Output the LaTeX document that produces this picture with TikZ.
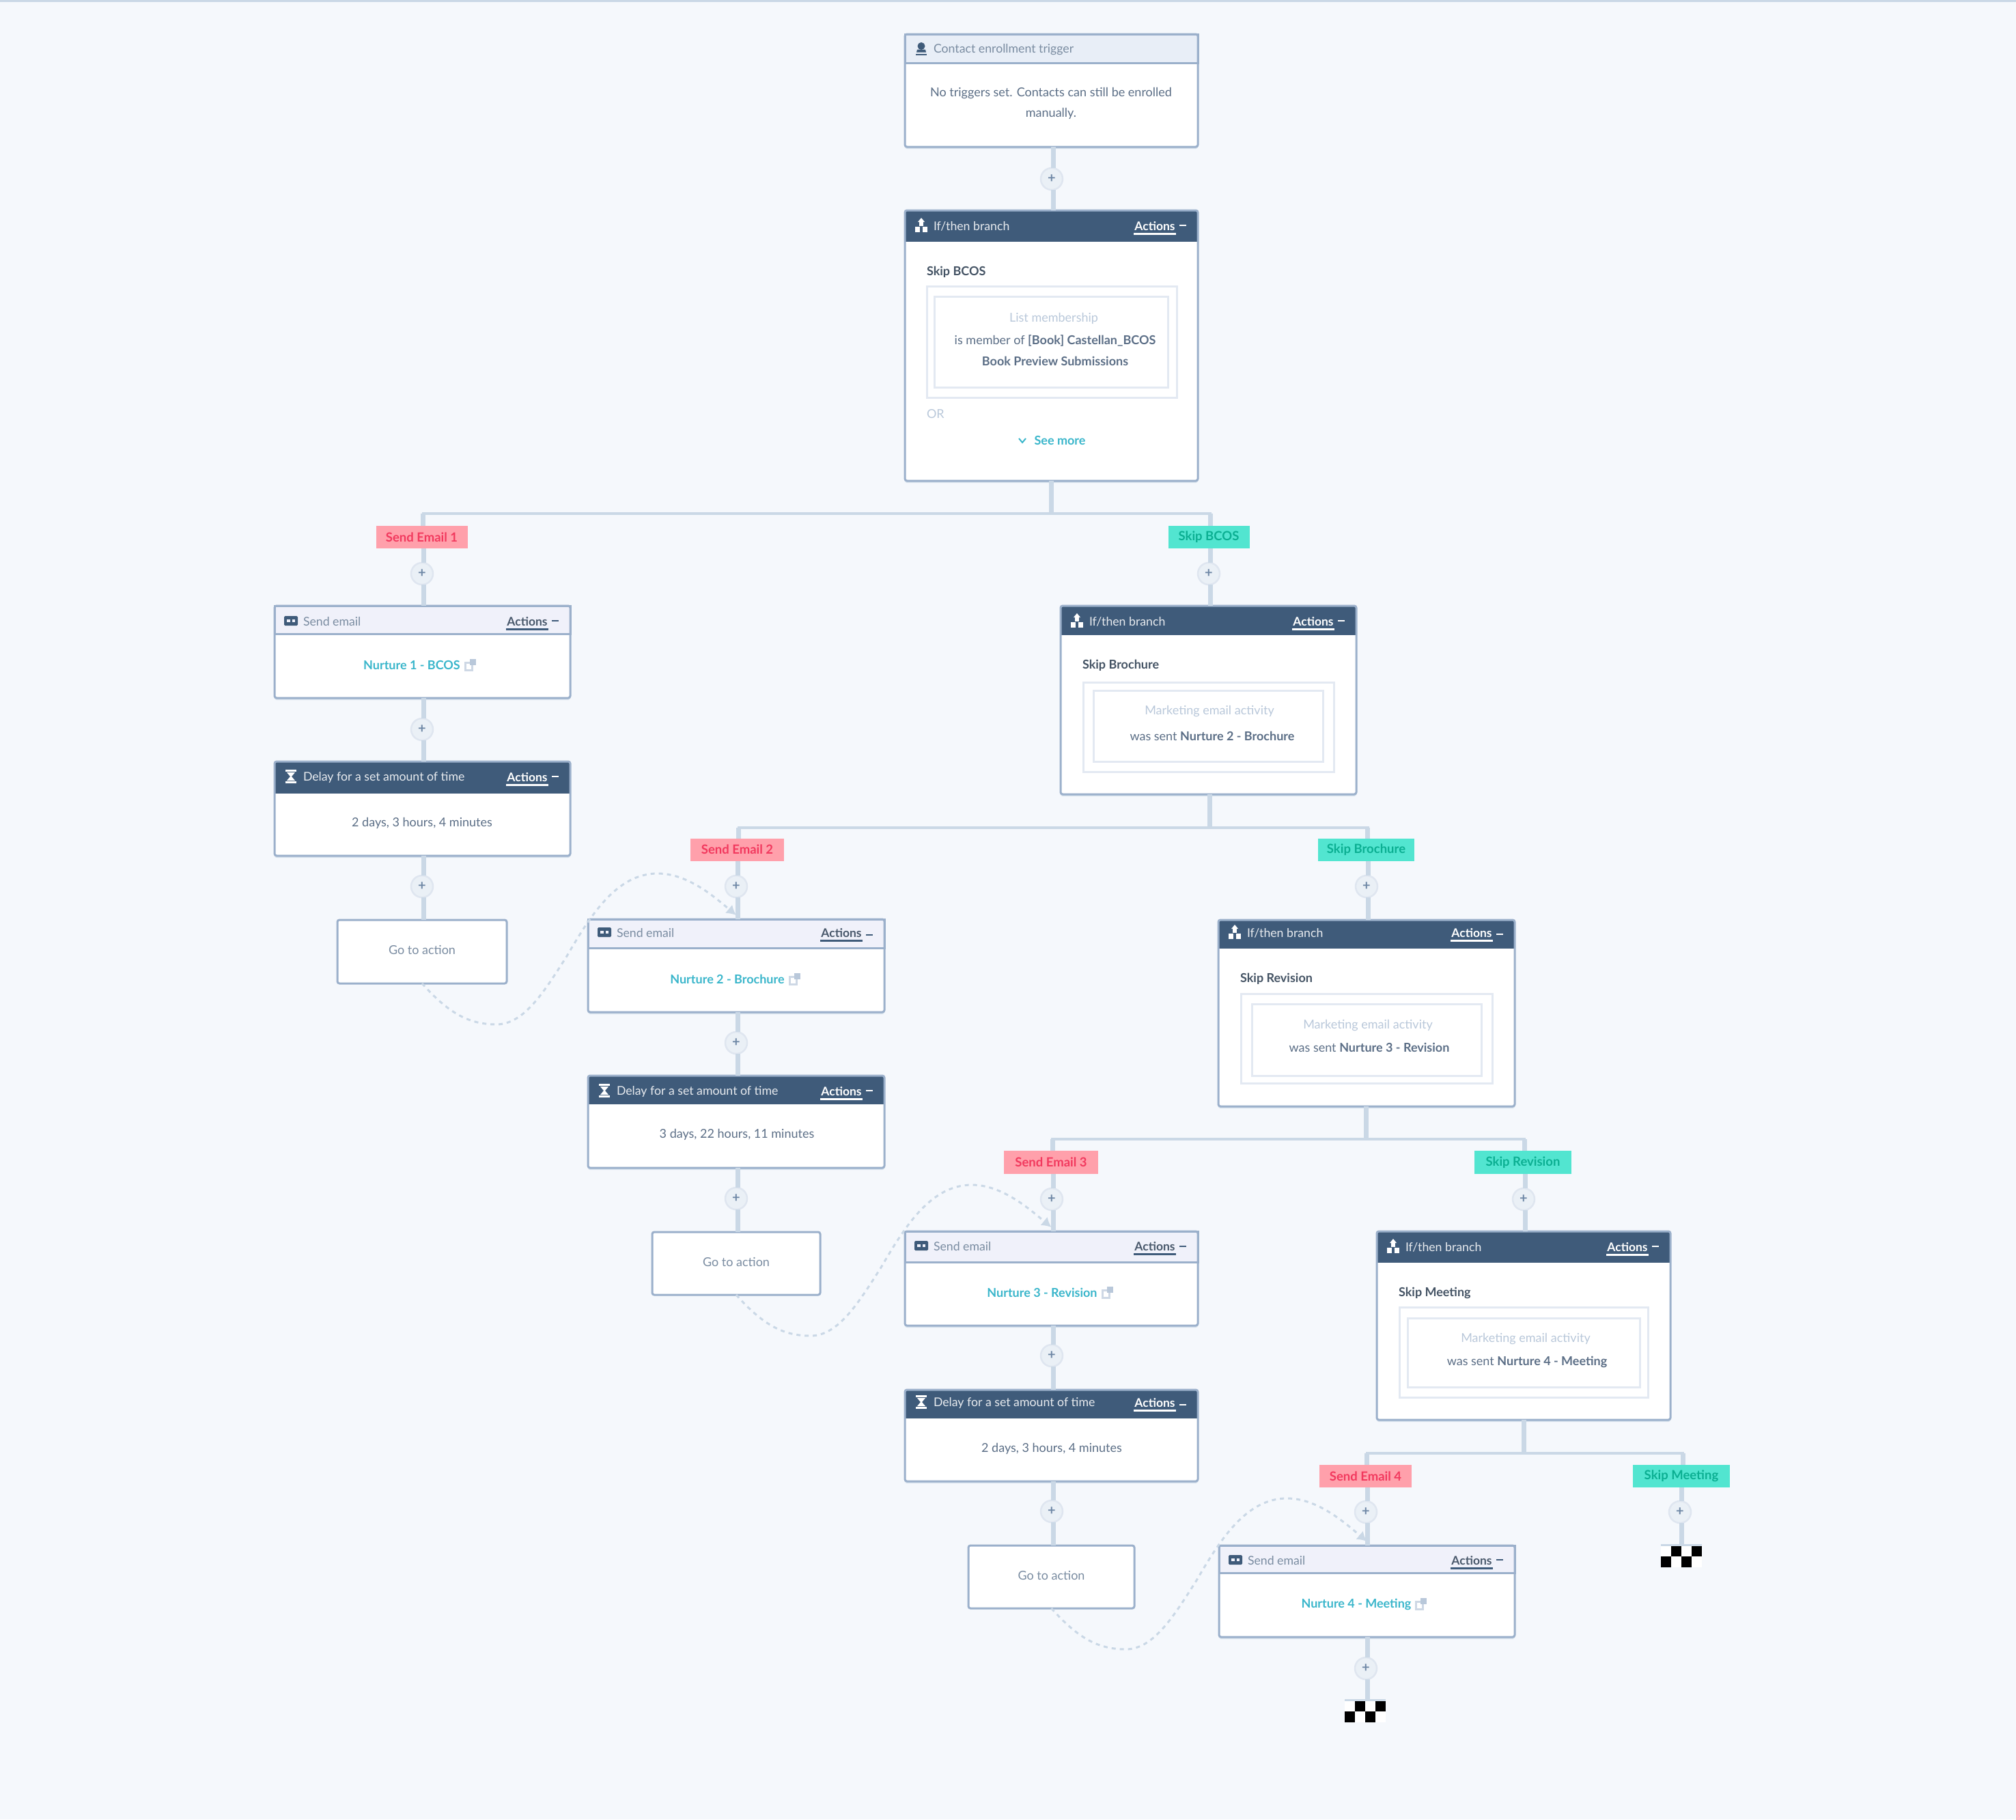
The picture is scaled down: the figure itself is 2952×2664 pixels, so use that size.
\documentclass[tikz,border=0pt]{standalone}
\usepackage{fontspec}
\setmainfont{Lato}
\usetikzlibrary{calc,arrows.meta}
\definecolor{bgc}{HTML}{F5F8FC}
\definecolor{edgec}{HTML}{CAD8E6}
\definecolor{borderc}{HTML}{9BB0CB}
\definecolor{darkh}{HTML}{3F5B7A}
\definecolor{lighth}{HTML}{F0F1FA}
\definecolor{trigh}{HTML}{E8EEF7}
\definecolor{titleg}{HTML}{7A8CA1}
\definecolor{bodyg}{HTML}{5B6E86}
\definecolor{paleg}{HTML}{B9C8DA}
\definecolor{framec}{HTML}{E3E9F2}
\definecolor{linkc}{HTML}{3AB6CB}
\definecolor{redf}{HTML}{FFA0AB}
\definecolor{redt}{HTML}{F2395E}
\definecolor{tealf}{HTML}{52E5D0}
\definecolor{tealt}{HTML}{0BAF92}
\definecolor{plusf}{HTML}{EAF0F6}
\definecolor{plusb}{HTML}{DFE6F0}
\definecolor{plust}{HTML}{6F88A6}
\tikzset{
  every node/.style={inner sep=0pt,outer sep=0pt,font=\fontsize{18}{22}\selectfont},
  cardbox/.style={rectangle,rounded corners=3pt,draw=borderc,line width=3pt},
  carddown/.style={rectangle,rounded corners=3pt,fill=edgec!70!bgc},
  headdark/.style={rectangle,fill=darkh},
  headlight/.style={rectangle,fill=lighth,draw=borderc,line width=3pt},
  headtrig/.style={rectangle,fill=trigh,draw=borderc,line width=3pt},
  titledark/.style={text=white!88!darkh,anchor=west,yshift=-1pt,font=\fontsize{17.7}{22}\selectfont},
  titlelight/.style={text=titleg,anchor=west,yshift=-1pt,font=\fontsize{17.7}{22}\selectfont},
  titletrig/.style={text=titleg,anchor=west,yshift=-1pt,font=\fontsize{17.7}{22}\selectfont},
  stemline/.style={draw=edgec,line width=7pt},
  barline/.style={draw=edgec,line width=4pt},
  plusnode/.style={circle,minimum size=32pt,fill=plusf,draw=plusb,line width=2.5pt,text=plust,font=\fontsize{20}{20}\selectfont\bfseries},
  redlabel/.style={rectangle,fill=redf,text=redt,font=\fontsize{18.5}{22}\selectfont\bfseries},
  teallabel/.style={rectangle,fill=tealf,text=tealt,font=\fontsize{18.5}{22}\selectfont\bfseries},
  gotolink/.style={draw=edgec,line width=3pt,dash pattern=on 6pt off 6pt,-{Latex[length=14pt,width=16pt]}},
  bodytext/.style={text=bodyg,align=center,yshift=-1pt},
  paletext/.style={text=paleg,yshift=-1pt},
  subhead/.style={anchor=west,text=bodyg!75!black,font=\fontsize{18}{22}\selectfont\bfseries,yshift=-1pt},
  gototext/.style={text=titleg,yshift=-1pt},
  linktext/.style={text=linkc,font=\fontsize{18}{22}\selectfont\bfseries,yshift=-1pt},
  framebox/.style={rectangle,draw=framec,line width=3pt,fill=white},
  actionsdark/.style={text=white,font=\fontsize{17.5}{22}\selectfont\bfseries,yshift=-1pt},
  actionslight/.style={text=bodyg!80!black,font=\fontsize{17.5}{22}\selectfont\bfseries,yshift=-1pt}
}
\newcommand{\iconperson}[3]{\begin{scope}[shift={(#1,#2)}]
  \fill[#3] (0,-4) circle (5.5);
  \fill[#3] (-6,1) -- (6,1) -- (7,5) -- (-7,5) -- cycle;
  \fill[#3] (-8,7) rectangle (8,9);
\end{scope}}
\newcommand{\iconbranch}[3]{\begin{scope}[shift={(#1,#2)}]
  \fill[#3] (0,-11) -- (5,-5) -- (-5,-5) -- cycle;
  \fill[#3] (-3,-5) rectangle (3,1);
  \fill[#3] (-9,2) rectangle (-2,10);
  \fill[#3] (2,2) rectangle (9,10);
\end{scope}}
\newcommand{\iconmail}[3]{\begin{scope}[shift={(#1,#2)}]
  \fill[#3,rounded corners=1.5pt] (-10,-7) rectangle (10,7);
  \fill[lighth] (-6,-2) rectangle (-1.5,2);
  \fill[lighth] (1.5,-2) rectangle (6,2);
\end{scope}}
\newcommand{\iconglass}[3]{\begin{scope}[shift={(#1,#2)}]
  \fill[#3] (-8,-10) rectangle (8,-7);
  \fill[#3] (-8,7) rectangle (8,10);
  \fill[#3] (-6,-6) -- (6,-6) -- (1,0) -- (6,6) -- (-6,6) -- (-1,0) -- cycle;
\end{scope}}
\def\tity{0}
\newcommand{\settity}[1]{\def\tity{#1}}
% name, left, right, top, header bottom, bottom, kind, icon, title
\newcommand{\card}[9]{%
  \pgfmathsetmacro{\cardcx}{(#2+#3)/2}%
  \pgfmathsetmacro{\cardw}{#3-#2}%
  \pgfmathsetmacro{\cardcy}{(#4+#6)/2}%
  \pgfmathsetmacro{\cardh}{#6-#4}%
  \pgfmathsetmacro{\headcy}{(#4+#5)/2}%
  \pgfmathsetmacro{\headh}{#5-#4}%
  \pgfmathsetmacro{\shadecy}{\cardcy+3}%
  \pgfmathsetmacro{\iconx}{#2+24}%
  \pgfmathsetmacro{\titlex}{#2+42}%
  \path (\cardcx,\shadecy) node[carddown,minimum width=\cardw pt,minimum height=\cardh pt] (#1-s) {};
  \path (\cardcx,\cardcy) node[rectangle,fill=white,minimum width=\cardw pt,minimum height=\cardh pt] (#1-f) {};
  \path (\cardcx,\headcy) node[head#7,minimum width=\cardw pt,minimum height=\headh pt] (#1-h) {};
  \path (\cardcx,\cardcy) node[cardbox,minimum width=\cardw pt,minimum height=\cardh pt] (#1) {};
  \path (\titlex,\tity) node[title#7] (#1-t) {#9};
  #8{\iconx}{\tity}{\csname icon#7\endcsname}%
}
\def\icondark{white}\def\iconlight{darkh}\def\icontrig{darkh}
% [minus dy], name, right edge, kind
\newcommand{\actions}[4][0]{%
  \pgfmathsetmacro{\actx}{#3-63}%
  \pgfmathsetmacro{\minx}{#3-22}%
  \path (\actx,\tity) node[actions#4] (#2-a) {Actions};
  \draw[line width=3pt,draw=\csname icon#4\endcsname] (\actx-31,\tity+12) -- (\actx+31,\tity+12);
  \draw[line width=2.5pt,draw=\csname icon#4\endcsname] (\minx-5,\tity+#1) -- (\minx+5,\tity+#1);
}
\newcommand{\pluspt}[3]{\path (#2,#3) node[plusnode] (#1) {+};}
% above anchor, plus, below anchor
\newcommand{\plusconn}[3]{%
  \draw[stemline] ([xshift=2pt]#2.north) -- ([xshift=2pt]#2.north |- #1);
  \draw[stemline] ([xshift=2pt]#2.south) -- ([xshift=2pt]#2.south |- #3);
}
% box, bar x, bar y, left label, right label, name
\newcommand{\barlink}[6]{%
  \coordinate (#6) at (#2,#3);
  \draw[stemline] (#6 |- #1.south) -- (#6);
  \draw[barline] ([xshift=2pt]#4.north) |- (#6) -| ([xshift=2pt]#5.north);
  \draw[stemline] ([xshift=2pt]#4.north) -- ([xshift=2pt]#4.north |- #6);
  \draw[stemline] ([xshift=2pt]#5.north) -- ([xshift=2pt]#5.north |- #6);
}
\newcommand{\extlink}[1]{%
  \fill[paleg!70!white] ($(#1.east)+(6,-5)$) rectangle ($(#1.east)+(19,9)$);
  \fill[white] ($(#1.east)+(9,-2)$) rectangle ($(#1.east)+(16,6)$);
  \fill[paleg] ($(#1.east)+(14,-9)$) rectangle ($(#1.east)+(23,0)$);
}
\newcommand{\gotocurve}[2]{%
  \draw[gotolink] (#1.south)
    .. controls ($(#1.south)+(40,45)$) and ($(#1.south)+(70,60)$) .. ($(#1.south)+(109,60)$)
    .. controls ($(#1.south)+(150,60)$) and ($(#1.south)+(180,10)$) .. ($(#1.south)+(212,-40)$)
    .. controls ($(#1.south)+(247,-100)$) and ($(#1.south)+(285,-161)$) .. ($(#1.south)+(345,-161)$)
    .. controls ($(#1.south)+(390,-161)$) and ($(#1.south)+(430,-125)$) .. ($(#2.north)+(0,-6)$);
}
\newcommand{\checker}[3]{%
  \path (#2,#3) node[rectangle,anchor=north west,fill=white,minimum width=60pt,minimum height=31pt] (#1) {};
  \fill[edgec] (#2,#3) rectangle ++(60,-3);
  \fill[black] (#2+15,#3) rectangle ++(15,15);
  \fill[black] (#2+45,#3) rectangle ++(15,15);
  \fill[black] (#2,#3+15) rectangle ++(15,16);
  \fill[black] (#2+30,#3+15) rectangle ++(15,16);
}
% name, left, right, top, bottom
\newcommand{\frameb}[5]{%
  \pgfmathsetmacro{\fcx}{(#2+#3)/2}\pgfmathsetmacro{\fcy}{(#4+#5)/2}%
  \pgfmathsetmacro{\fw}{#3-#2}\pgfmathsetmacro{\fh}{#5-#4}%
  \path (\fcx,\fcy) node[framebox,minimum width=\fw pt,minimum height=\fh pt] (#1) {};
}
\begin{document}
\begin{tikzpicture}[x=1pt,y=-1pt]
\useasboundingbox (0,0) rectangle (2952,2664);
\fill[bgc] (0,0) rectangle (2952,2664);
\fill[edgec] (0,0) rectangle (2952,3);

% trigger
\settity{71.5}
\card{trig}{1325}{1754}{50}{92}{215}{trig}{\iconperson}{Contact enrollment trigger}
\path (1539,150) node[bodytext,font=\fontsize{18}{30}\selectfont] (trigt) {No triggers set. Contacts can still be enrolled\\manually.};
\pluspt{p0}{1540}{262}

% first branch
\settity{330}
\card{br0}{1325}{1754}{308}{354}{704}{dark}{\iconbranch}{If/then branch}
\actions{br0}{1754}{dark}
\path (1357,397) node[subhead] (br0n) {Skip BCOS};
\frameb{br0o}{1357}{1723}{419}{582}
\frameb{br0i}{1368}{1710}{434}{567}
\path (1543,465) node[paletext] (br0a) {List membership};
\path (1545,498) node[bodytext] (br0b) {is member of \textbf{[Book] Castellan\_BCOS}};
\path (1545,528) node[bodytext] (br0c) {\textbf{Book Preview Submissions}};
\path (1357,605) node[anchor=west,paletext] (br0or) {OR};
\path (1552,644) node[linktext] (br0m) {See more};
\draw[draw=linkc,line width=2pt] (1492,642) -- (1497,648) -- (1502,642);
\plusconn{trig.south}{p0}{br0.north}

% level 1
\path (617.5,786.5) node[redlabel,minimum width=134pt,minimum height=33pt] (l1a) {Send Email 1};
\path (1770,786.5) node[teallabel,minimum width=119pt,minimum height=33pt] (l1b) {Skip BCOS};
\barlink{br0}{1539}{752}{l1a}{l1b}{b0}

\settity{909}
\card{s1}{402}{835}{887}{928}{1022}{light}{\iconmail}{Send email}
\actions{s1}{835}{light}
\path (603,973) node[linktext] (s1l) {Nurture 1 - BCOS};
\extlink{s1l}
\settity{1137}
\card{d1}{402}{835}{1115}{1162}{1253}{dark}{\iconglass}{Delay for a set amount of time}
\actions{d1}{835}{dark}
\path (618,1204) node[bodytext] (d1t) {2 days, 3 hours, 4 minutes};
\path (618,1393.5) node[cardbox,fill=white,minimum width=248pt,minimum height=93pt] (g1) {};
\path (618,1390) node[gototext] (g1t) {Go to action};
\pluspt{p1}{618}{840}\pluspt{p2}{618}{1068}\pluspt{p3}{618}{1298}
\plusconn{l1a.south}{p1}{s1.north}
\plusconn{s1.south}{p2}{d1.north}
\plusconn{d1.south}{p3}{g1.north}

\settity{909}
\card{br1}{1553}{1986}{887}{930}{1163}{dark}{\iconbranch}{If/then branch}
\actions{br1}{1986}{dark}
\path (1585,973) node[subhead] (br1n) {Skip Brochure};
\frameb{br1o}{1586}{1953}{999}{1130}
\frameb{br1i}{1601}{1937}{1011}{1115}
\path (1771,1040) node[paletext] (br1a) {Marketing email activity};
\path (1775,1077) node[bodytext] (br1b) {was sent \textbf{Nurture 2 - Brochure}};
\pluspt{p4}{1770}{840}
\plusconn{l1b.south}{p4}{br1.north}

% level 2
\path (1079.5,1244) node[redlabel,minimum width=137pt,minimum height=33pt] (l2a) {Send Email 2};
\path (2000.5,1244) node[teallabel,minimum width=141pt,minimum height=33pt] (l2b) {Skip Brochure};
\barlink{br1}{1771}{1212}{l2a}{l2b}{b1}

\settity{1365}
\card{s2}{861}{1295}{1346}{1388}{1482}{light}{\iconmail}{Send email}
\actions[4]{s2}{1295}{light}
\path (1065,1433) node[linktext] (s2l) {Nurture 2 - Brochure};
\extlink{s2l}
\settity{1597}
\card{d2}{861}{1295}{1575}{1617}{1710}{dark}{\iconglass}{Delay for a set amount of time}
\actions{d2}{1295}{dark}
\path (1079,1660) node[bodytext] (d2t) {3 days, 22 hours, 11 minutes};
\path (1078,1850) node[cardbox,fill=white,minimum width=246pt,minimum height=92pt] (g2) {};
\path (1078,1847) node[gototext] (g2t) {Go to action};
\pluspt{p5}{1078}{1298}\pluspt{p6}{1078}{1527}\pluspt{p7}{1078}{1755}
\plusconn{l2a.south}{p5}{s2.north}
\plusconn{s2.south}{p6}{d2.north}
\plusconn{d2.south}{p7}{g2.north}

\settity{1365}
\card{br2}{1784}{2218}{1347}{1389}{1620}{dark}{\iconbranch}{If/then branch}
\actions[3]{br2}{2218}{dark}
\path (1816,1432) node[subhead] (br2n) {Skip Revision};
\frameb{br2o}{1817}{2185}{1455}{1586}
\frameb{br2i}{1833}{2169}{1470}{1575}
\path (2003,1500) node[paletext] (br2a) {Marketing email activity};
\path (2005,1533) node[bodytext] (br2b) {was sent \textbf{Nurture 3 - Revision}};
\pluspt{p8}{2001}{1298}
\plusconn{l2b.south}{p8}{br2.north}

% level 3
\path (1539,1702) node[redlabel,minimum width=138pt,minimum height=34pt] (l3a) {Send Email 3};
\path (2230,1702) node[teallabel,minimum width=142pt,minimum height=34pt] (l3b) {Skip Revision};
\barlink{br2}{2000}{1668}{l3a}{l3b}{b2}

\settity{1824}
\card{s3}{1325}{1754}{1803}{1848}{1941}{light}{\iconmail}{Send email}
\actions[1]{s3}{1754}{light}
\path (1526,1892) node[linktext] (s3l) {Nurture 3 - Revision};
\extlink{s3l}
\settity{2053}
\card{d3}{1325}{1754}{2035}{2077}{2169}{dark}{\iconglass}{Delay for a set amount of time}
\actions[4]{d3}{1754}{dark}
\path (1540,2120) node[bodytext] (d3t) {2 days, 3 hours, 4 minutes};
\path (1539.5,2309) node[cardbox,fill=white,minimum width=243pt,minimum height=92pt] (g3) {};
\path (1539.5,2306) node[gototext] (g3t) {Go to action};
\pluspt{p9}{1540}{1756}\pluspt{p10}{1540}{1985}\pluspt{p11}{1540}{2213}
\plusconn{l3a.south}{p9}{s3.north}
\plusconn{s3.south}{p10}{d3.north}
\plusconn{d3.south}{p11}{g3.north}

\settity{1825}
\card{br3}{2016}{2446}{1803}{1849}{2079}{dark}{\iconbranch}{If/then branch}
\actions{br3}{2446}{dark}
\path (2048,1892) node[subhead] (br3n) {Skip Meeting};
\frameb{br3o}{2049}{2413}{1914}{2046}
\frameb{br3i}{2061}{2401}{1930}{2031}
\path (2234,1959) node[paletext] (br3a) {Marketing email activity};
\path (2236,1993) node[bodytext] (br3b) {was sent \textbf{Nurture 4 - Meeting}};
\pluspt{p12}{2231}{1756}
\plusconn{l3b.south}{p12}{br3.north}

% level 4
\path (1999.5,2161.5) node[redlabel,minimum width=135pt,minimum height=33pt] (l4a) {Send Email 4};
\path (2462,2161.5) node[teallabel,minimum width=142pt,minimum height=33pt] (l4b) {Skip Meeting};
\barlink{br3}{2231}{2128}{l4a}{l4b}{b3}

\settity{2284}
\card{s4}{1785}{2218}{2263}{2303}{2397}{light}{\iconmail}{Send email}
\actions{s4}{2218}{light}
\path (1986,2348) node[linktext] (s4l) {Nurture 4 - Meeting};
\extlink{s4l}
\pluspt{p13}{2000}{2214}\pluspt{p14}{2460}{2214}\pluspt{p15}{2000}{2443}
\checker{c1}{1969}{2491}
\checker{c2}{2432}{2264}
\plusconn{l4a.south}{p13}{s4.north}
\plusconn{l4b.south}{p14}{c2.north}
\plusconn{s4.south}{p15}{c1.north}

% go-to links
\gotocurve{g1}{s2}
\gotocurve{g2}{s3}
\gotocurve{g3}{s4}
\end{tikzpicture}
\end{document}
